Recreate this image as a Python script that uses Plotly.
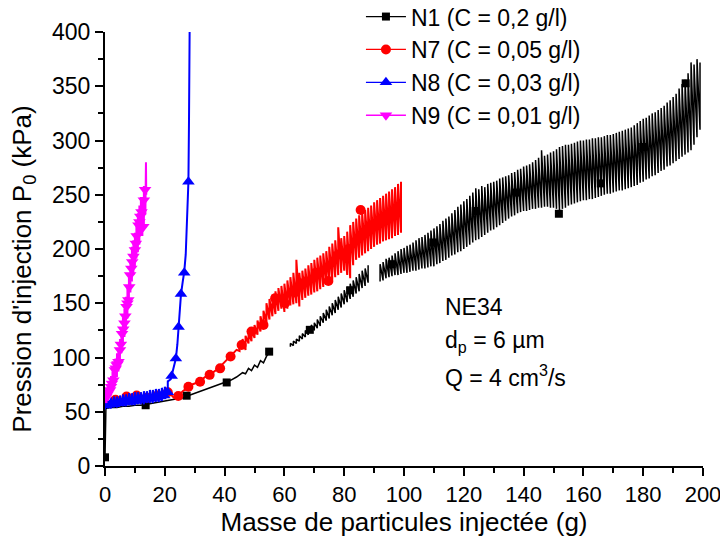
import plotly.graph_objects as go

# ---------------- data ----------------
# N1 (C = 0,2 g/l) - black
n1_a_x = [0, 0.3, 2, 4, 6, 8, 10, 12, 14, 16, 18, 20, 22, 24, 26, 28, 30, 32, 34, 36, 38, 40,
          42, 44, 46, 47, 48, 49, 50, 51, 52, 53, 54, 55]
n1_a_y = [8, 53, 54, 54, 55, 55, 56, 56, 57, 58, 59, 60, 61, 62, 63, 65, 67, 69, 71, 73, 75, 77,
          79, 82, 86, 85, 90, 88, 93, 91, 97, 95, 101, 105]
n1_b_x = [62, 63, 64, 65, 66, 67, 68, 69, 70, 71, 72, 73, 74, 75, 76, 77, 78, 79, 80, 81, 82, 83,
          84, 85, 86, 87, 88]
n1_b_lo = [110, 111, 113, 115, 117, 119, 121, 123, 125, 127, 129, 132, 134, 136, 139, 141, 144,
           146, 149, 151, 154, 156, 159, 161, 164, 166, 169]
n1_b_hi = [113, 115, 117, 120, 122, 125, 127, 130, 132, 135, 138, 141, 144, 147, 150, 153, 156,
           159, 162, 165, 168, 171, 174, 177, 180, 182, 185]
n1_c_x = [92, 93, 94, 95, 96, 97, 98, 99,
          100, 101, 102, 103, 104, 105, 106, 107, 108, 109,
          110, 111, 112, 113, 114, 115, 116, 117, 118, 119,
          120, 121, 122, 123, 124, 125, 126, 127, 128, 129,
          130, 131, 132, 133, 134, 135, 136, 137, 138, 139,
          140, 141, 142, 143, 144, 145, 146, 147, 148, 149,
          150, 151, 152, 153, 154, 155, 156, 157, 158, 159,
          160, 161, 162, 163, 164, 165, 166, 167, 168, 169,
          170, 171, 172, 173, 174, 175, 176, 177, 178, 179,
          180, 181, 182, 183, 184, 185, 186, 187, 188, 189,
          190, 191, 192, 193, 194, 195, 196, 197, 198, 199]
n1_c_lo = [170, 171, 173, 174, 175, 176, 176, 177,
           178, 178, 179, 180, 180, 181, 182, 182, 183, 184,
           184, 186, 187, 189, 190, 192, 194, 195, 197, 198,
           200, 202, 204, 206, 208, 209, 211, 213, 215, 217,
           218, 220, 222, 224, 226, 228, 230, 231, 233, 234,
           235, 235, 236, 237, 237, 238, 238, 239, 239, 238,
           238, 237, 236, 237, 238, 240, 241, 242, 243, 244,
           245, 245, 246, 246, 247, 248, 249, 250, 251, 251,
           252, 253, 254, 254, 255, 256, 257, 258, 259, 261,
           262, 264, 265, 267, 268, 270, 272, 273, 276, 277,
           279, 281, 283, 285, 287, 289, 291, 296, 303, 310]
n1_c_hi = [186, 188, 191, 192, 194, 196, 198, 200,
           201, 203, 204, 206, 208, 210, 211, 213, 215, 217,
           219, 221, 223, 226, 228, 230, 233, 236, 239, 241,
           244, 246, 249, 252, 256, 255, 258, 257, 260, 261,
           262, 263, 265, 266, 267, 268, 270, 271, 273, 274,
           276, 277, 278, 280, 282, 284, 291, 286, 287, 289,
           290, 292, 294, 295, 296, 296, 297, 298, 299, 300,
           300, 301, 301, 302, 302, 303, 303, 304, 305, 305,
           306, 307, 308, 309, 310, 311, 312, 314, 316, 318,
           320, 321, 323, 325, 326, 328, 330, 332, 335, 337,
           340, 343, 348, 352, 356, 362, 372, 370, 375, 372]
n1_mx = [0, 13.6, 27.3, 40.7, 54.9, 68.5, 82, 95.9, 109.8, 124, 137.7, 151.8, 165.8, 180, 194.2]
n1_my = [8, 56, 64.8, 77, 105.4, 125.5, 162, 186, 206, 235, 252, 232.5, 260.5, 294, 352.7]

# N7 (C = 0,05 g/l) - red
n7_a_x = [0, 1, 2, 3, 4, 5, 6, 7, 8, 9, 10, 11, 12, 13, 14, 15, 16, 17, 18, 19, 20, 21, 22,
          23, 24, 25, 26, 27, 28, 29, 30, 31, 32, 33, 34, 35, 36, 37, 38, 39, 40, 41, 42, 43, 44]
n7_a_y = [58, 59, 60, 61, 61, 62, 62, 63, 63, 62, 63, 64, 63, 64, 63, 64, 65, 64, 66, 67, 66,
          69, 66, 63, 64, 66, 69, 71, 73, 75, 76, 77, 79, 81, 83, 84, 86, 88, 90, 93, 96, 98,
          101, 104, 107]
n7_b_x = [45, 46, 47, 48, 49, 50, 51, 52, 53, 54, 55, 56, 57, 58, 59, 60, 61, 62, 63, 64,
          65, 66, 67, 68, 69, 70, 71, 72, 73, 74, 75, 76, 77, 78, 79, 80, 81, 82, 83, 84,
          85, 86, 87, 88, 89, 90, 91, 92, 93, 94, 95, 96, 97, 98, 99]
n7_b_lo = [106, 108, 107, 113, 115, 118, 121, 124, 127, 132, 135, 138, 140, 143, 145, 142, 145,
           148, 149, 150, 147, 153, 155, 157, 158, 160, 161, 163, 165, 168, 170, 172, 174, 176,
           178, 180, 176, 173, 185, 190, 192, 194, 196, 198, 200, 202, 204, 205, 207, 208, 209,
           210, 212, 213, 215]
n7_b_hi = [114, 117, 120, 123, 126, 130, 134, 138, 143, 150, 154, 158, 161, 164, 166, 168, 171,
           174, 178, 190, 178, 180, 182, 185, 187, 190, 192, 194, 196, 198, 202, 205, 208, 220,
           210, 212, 216, 222, 225, 228, 231, 234, 236, 238, 240, 243, 245, 247, 249, 251, 253,
           255, 257, 260, 262]
n7_mx = [0, 3.5, 7.2, 10.6, 14, 17.5, 21, 24.5, 27.9, 31.8, 35, 38.5, 42, 45.7, 49, 53, 56.9,
         60.2, 63.5, 67, 70.5, 74.7, 78, 81.5, 85.5, 89, 92.5, 96]
n7_my = [58, 61, 64, 65, 63, 65, 68, 64.5, 73, 77.7, 84, 90, 101, 111.5, 124, 130, 154.6, 150,
         160, 170, 178, 170.5, 195, 200, 236, 222, 228, 234]

# N8 (C = 0,03 g/l) - blue
n8_a_x = [0, 1, 2, 3, 4, 5, 6, 7, 8, 9, 10, 11, 12, 13, 14, 15, 16, 17, 18, 19, 20, 21]
n8_a_lo = [52, 53, 53, 54, 54, 55, 55, 55, 56, 56, 56, 57, 57, 57, 58, 58, 58, 59, 59, 60, 62, 66]
n8_a_hi = [61, 62, 63, 64, 64, 65, 66, 66, 67, 67, 68, 68, 68, 69, 69, 70, 70, 71, 71, 72, 73, 78]
n8_b_x = [22, 22.5, 23, 23.7, 24.2, 24.6, 25, 25.4, 26, 26.5, 27, 27.4, 27.9, 28.1, 28.3]
n8_b_y = [80, 86, 92, 99, 112, 128, 145, 158, 170, 179, 195, 220, 262, 320, 400]
n8_mx = [0.5, 1.8, 3, 4.2, 5.4, 6.6, 7.8, 9, 10.2, 11.4, 12.6, 13.8, 15, 16.2, 17.4, 18.6, 19.8,
         21, 22.3, 23.7, 24.6, 25.4, 26.5, 27.9]
n8_my = [56, 57, 57, 58, 58, 59, 59, 60, 60, 61, 61, 62, 62, 63, 63, 64, 65, 68, 83, 99, 128,
         158.5, 178, 262]

# N9 (C = 0,01 g/l) - magenta
n9_x = [0, 0.5, 1, 1.5, 2, 2.5, 3, 3.5, 4, 4.5, 5, 5.5, 6, 6.5, 7, 7.5, 8, 8.5, 9, 9.5,
        10, 10.5, 11, 11.5, 12, 12.5, 13, 13.5]
n9_lo = [58, 58, 60, 62, 65, 69, 74, 79, 82, 87, 95, 104, 111, 119, 128, 136, 147, 160, 170,
         176, 183, 191, 197, 204, 212, 212, 222, 232]
n9_hi = [70, 72, 74, 78, 83, 87, 94, 99, 104, 109, 117, 128, 137, 145, 156, 164, 177, 190, 202,
         208, 215, 225, 233, 240, 248, 248, 258, 270]
n9_t_x = [13.7, 13.8]
n9_t_y = [280, 250]
n9_mx = [0.2, 0.5, 0.8, 1.2, 1.7, 2.0, 2.3, 2.8, 3.3, 3.6, 3.9, 4.2, 4.5, 5, 5.3, 5.7, 6.1,
         6.5, 6.8, 7.2, 7.5, 7.8, 8.1, 8.4, 8.8, 9.1, 9.5, 10, 10.3, 10.6, 11.2, 11.5, 11.8,
         12.2, 12.8, 13, 13.4]
n9_my = [64, 64, 66, 68, 70, 73, 76, 79, 88.5, 90, 93, 94, 96, 107, 112, 122, 126, 131.5, 138,
         146.8, 150, 153, 165, 176, 182, 188, 193, 199, 205, 212, 222, 225, 230, 234, 220.6,
         245, 254.5]

legend_names = ["N1 (C = 0,2 g/l)", "N7 (C = 0,05 g/l)", "N8 (C = 0,03 g/l)", "N9 (C = 0,01 g/l)"]
x_ticks = [0, 20, 40, 60, 80, 100, 120, 140, 160, 180, 200]
y_ticks = [0, 50, 100, 150, 200, 250, 300, 350, 400]

# ---------------- helpers ----------------
def saw(xs, lo, hi):
    X, Y = [], []
    for x, a, b in zip(xs, lo, hi):
        X += [x, x]
        Y += [a, b]
    return X, Y

FONT = "Liberation Sans, Arial, sans-serif"
BLACK, RED, BLUE, MAG = "#000000", "#FF0000", "#0000FF", "#FF00FF"

fig = go.Figure()

# N1
bx, by = saw(n1_b_x, n1_b_lo, n1_b_hi)
cx, cy = saw(n1_c_x, n1_c_lo, n1_c_hi)
fig.add_trace(go.Scatter(x=n1_a_x + [None] + bx + [None] + cx,
                         y=n1_a_y + [None] + by + [None] + cy,
                         mode="lines", line=dict(color=BLACK, width=1.5),
                         showlegend=False, connectgaps=False))
fig.add_trace(go.Scatter(x=n1_mx, y=n1_my, mode="markers",
                         marker=dict(symbol="square", size=8, color=BLACK), showlegend=False))
# N7
rx, ry = saw(n7_b_x, n7_b_lo, n7_b_hi)
fig.add_trace(go.Scatter(x=n7_a_x + rx, y=n7_a_y + ry, mode="lines",
                         line=dict(color=RED, width=2), showlegend=False))
fig.add_trace(go.Scatter(x=n7_mx, y=n7_my, mode="markers",
                         marker=dict(symbol="circle", size=10, color=RED), showlegend=False))
# N8
ux, uy = saw(n8_a_x, n8_a_lo, n8_a_hi)
fig.add_trace(go.Scatter(x=ux + n8_b_x, y=uy + n8_b_y, mode="lines",
                         line=dict(color=BLUE, width=2), showlegend=False))
fig.add_trace(go.Scatter(x=n8_mx, y=n8_my, mode="markers",
                         marker=dict(symbol="triangle-up", size=11, color=BLUE), showlegend=False))
# N9
mx_, my_ = saw(n9_x, n9_lo, n9_hi)
fig.add_trace(go.Scatter(x=mx_ + n9_t_x, y=my_ + n9_t_y, mode="lines",
                         line=dict(color=MAG, width=2), showlegend=False))
fig.add_trace(go.Scatter(x=n9_mx, y=n9_my, mode="markers",
                         marker=dict(symbol="triangle-down", size=11, color=MAG), showlegend=False))

# legend entries
for name, col, sym, sz in zip(legend_names, [BLACK, RED, BLUE, MAG],
                              ["square", "circle", "triangle-up", "triangle-down"],
                              [8, 10, 11, 11]):
    fig.add_trace(go.Scatter(x=[None], y=[None], mode="lines+markers", name=name,
                             legendgroup=name,
                             line=dict(color=col, width=1.3),
                             marker=dict(symbol=sym, size=sz, color=col)))

axis_common = dict(showline=True, linecolor="black", linewidth=2, ticks="outside",
                   ticklen=8, tickwidth=2, tickcolor="black", showgrid=False,
                   zeroline=False, mirror=False, ticklabeloverflow="allow")

fig.update_xaxes(range=[0, 200], tickvals=x_ticks,
                 tickfont=dict(family=FONT, size=22, color="black"),
                 minor=dict(dtick=10, ticks="outside", ticklen=5, tickwidth=2, tickcolor="black"),
                 title=dict(text="Masse de particules injectée (g)",
                            font=dict(family=FONT, size=26, color="black"), standoff=6),
                 **axis_common)
fig.update_yaxes(range=[0, 400], tickvals=y_ticks,
                 tickfont=dict(family=FONT, size=23, color="black"),
                 minor=dict(dtick=25, ticks="outside", ticklen=5, tickwidth=2, tickcolor="black"),
                 **axis_common)

# y-axis title (placed as rotated text to match the reference position)
fig.add_annotation(x=-0.136, y=0.454, xref="paper", yref="paper",
                   text="Pression d'injection P<sub>0</sub> (kPa)", textangle=-90,
                   showarrow=False, xanchor="center", yanchor="middle",
                   font=dict(family=FONT, size=26, color="black"))

ann_font = dict(family=FONT, size=23, color="black")
for txt, yv in [("NE34", 146.5), ("d<sub>p</sub> = 6 µm", 115), ("Q = 4 cm<sup>3</sup>/s", 83)]:
    fig.add_annotation(x=113, y=yv, xref="x", yref="y", text=txt, showarrow=False,
                       xanchor="left", yanchor="middle", font=ann_font)

fig.update_layout(
    width=720, height=551,
    margin=dict(l=105, r=17, t=32, b=85, autoexpand=False),
    plot_bgcolor="white", paper_bgcolor="white",
    font=dict(family=FONT, color="black"),
    legend=dict(x=0.428, y=1.085, xanchor="left", yanchor="top",
                font=dict(family=FONT, size=23, color="black"),
                bgcolor="rgba(0,0,0,0)", tracegroupgap=0, itemwidth=40),
)

fig.write_html("out.html", config={"displayModeBar": False},
               post_script="document.body.style.margin='0';document.body.style.padding='0';")
